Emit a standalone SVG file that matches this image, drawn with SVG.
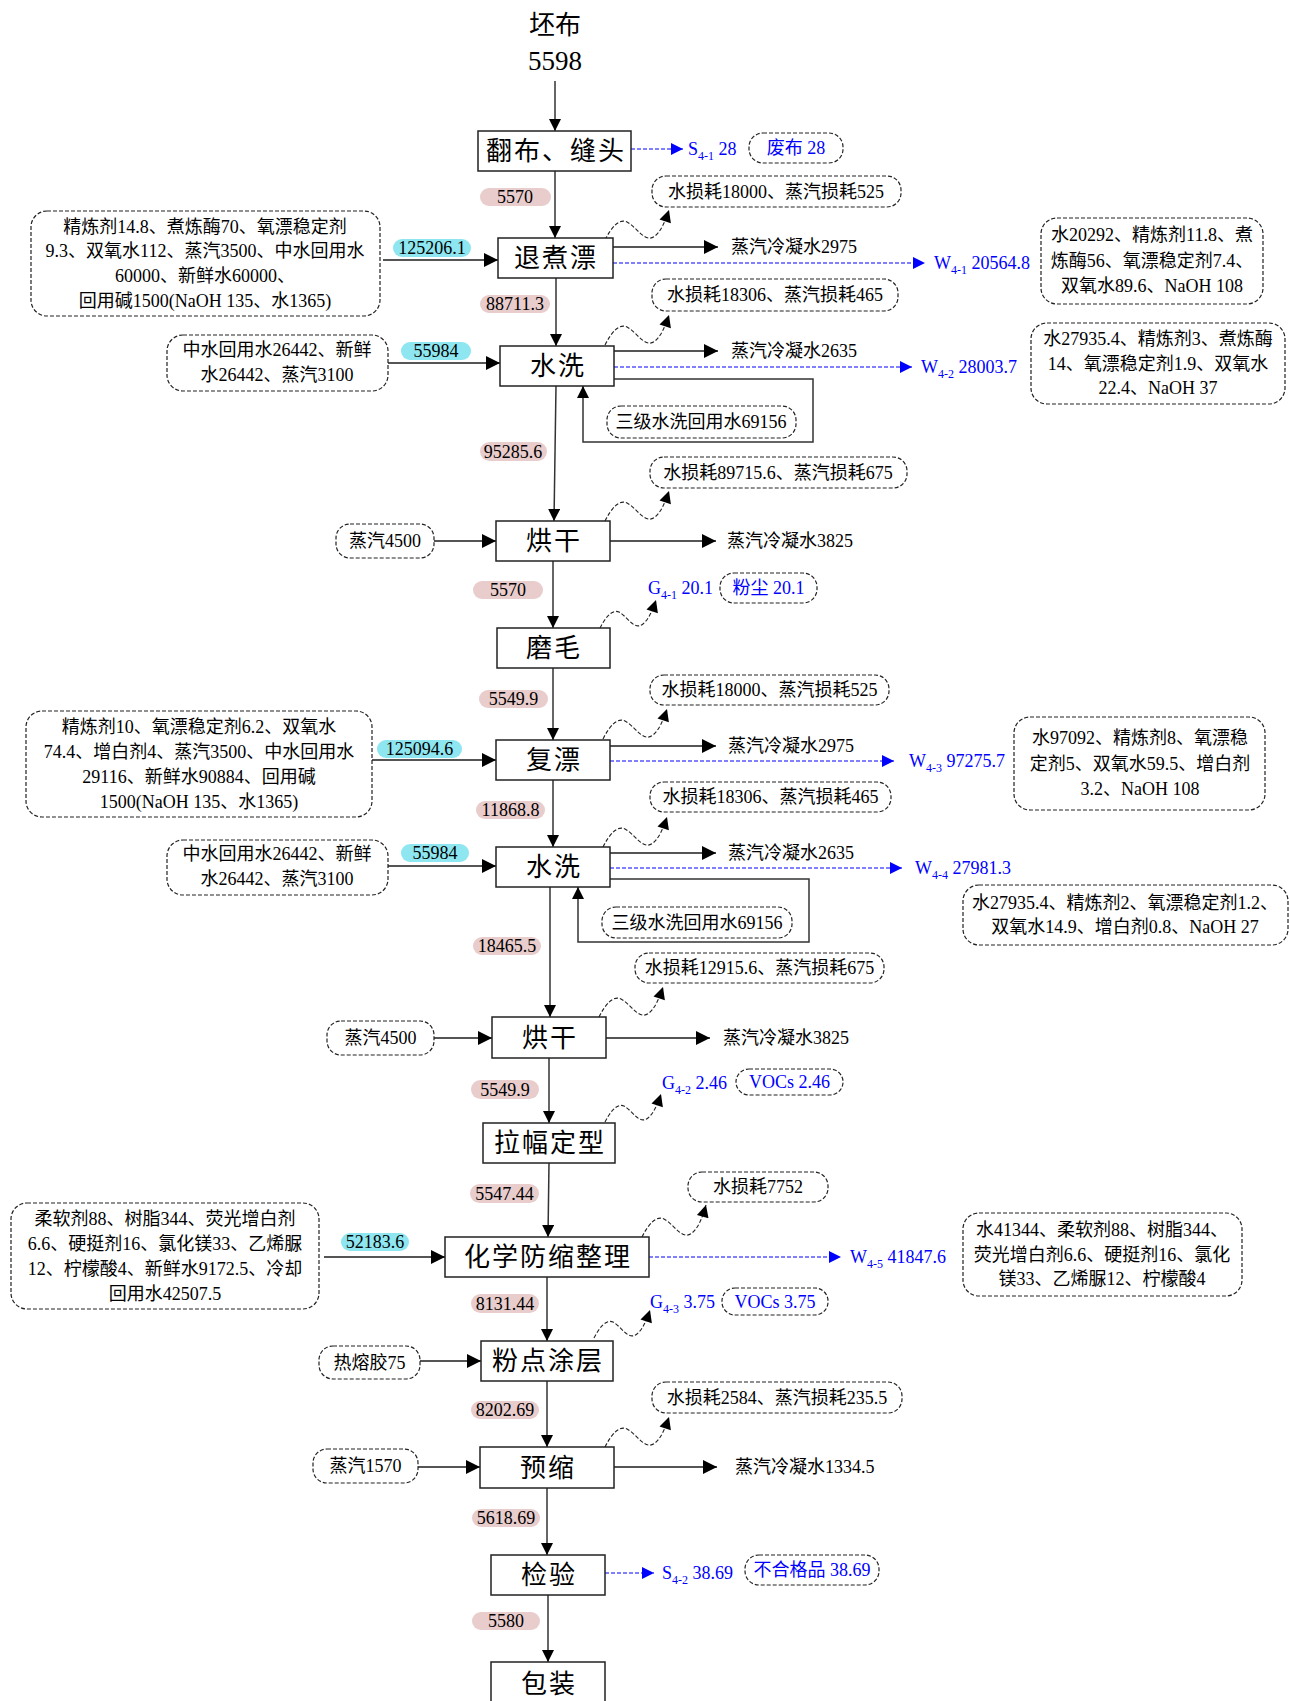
<svg xmlns="http://www.w3.org/2000/svg" width="1290" height="1701" viewBox="0 0 1290 1701">
<style>
text{font-family:"Liberation Serif","Noto Sans CJK SC",serif;fill:#000}
.t{font-size:18px;dominant-baseline:central}
.c{text-anchor:middle}
.big{font-size:26px;letter-spacing:2px;text-anchor:middle;dominant-baseline:central}
.box{fill:#fff;stroke:#222;stroke-width:1.5}
.db{fill:#fff;stroke:#222;stroke-width:1.2;stroke-dasharray:4 2}
.pk{fill:#e9cccc}
.cy{fill:#8ee6f0}
.bl{fill:#0000ff}
.ln{fill:none;stroke:#333;stroke-width:1.5}
.hl{fill:none;stroke:#555;stroke-width:2}
.bd{fill:none;stroke:#0000ff;stroke-width:1.2;stroke-dasharray:4 2}
.wv{fill:none;stroke:#222;stroke-width:1.1;stroke-dasharray:4 2}
</style>
<defs>
<marker id="av" viewBox="0 0 10 10" refX="10" refY="5" markerWidth="18" markerHeight="12" markerUnits="userSpaceOnUse" orient="auto"><path d="M0,0 L10,5 L0,10z" fill="#000"/></marker>
<marker id="ah" viewBox="0 0 10 10" refX="10" refY="5" markerWidth="20" markerHeight="14" markerUnits="userSpaceOnUse" orient="auto"><path d="M0,0 L10,5 L0,10z" fill="#000"/></marker>
<marker id="ab" viewBox="0 0 10 10" refX="10" refY="5" markerWidth="13" markerHeight="12" markerUnits="userSpaceOnUse" orient="auto"><path d="M0,0 L10,5 L0,10z" fill="#0000ff"/></marker>
<marker id="aw" viewBox="0 0 10 10" refX="10" refY="5" markerWidth="18" markerHeight="12" markerUnits="userSpaceOnUse" orient="auto"><path d="M0,0 L10,5 L0,10z" fill="#000"/></marker>
</defs>
<rect width="1290" height="1701" fill="#fff"/>

<g id="connectors">
<!-- main vertical flow -->
<path class="ln" d="M555,81 V131" marker-end="url(#av)"/>
<path class="ln" d="M555,171 V238" marker-end="url(#av)"/>
<path class="ln" d="M556,278 V346" marker-end="url(#av)"/>
<path class="ln" d="M556,386 L554,521" marker-end="url(#av)"/>
<path class="ln" d="M553,561 V628" marker-end="url(#av)"/>
<path class="ln" d="M553,668 V740" marker-end="url(#av)"/>
<path class="ln" d="M553,780 V847" marker-end="url(#av)"/>
<path class="ln" d="M550,887 V1017" marker-end="url(#av)"/>
<path class="ln" d="M549,1058 V1123" marker-end="url(#av)"/>
<path class="ln" d="M549,1163 L548,1237" marker-end="url(#av)"/>
<path class="ln" d="M547,1277 V1341" marker-end="url(#av)"/>
<path class="ln" d="M547,1381 V1447" marker-end="url(#av)"/>
<path class="ln" d="M547,1488 V1555" marker-end="url(#av)"/>
<path class="ln" d="M548,1595 V1662" marker-end="url(#av)"/>

<!-- inputs -->
<path class="hl" d="M383,260 H498" marker-end="url(#ah)"/>
<path class="hl" d="M388,363 H500" marker-end="url(#ah)"/>
<path class="hl" d="M434,541 H496" marker-end="url(#ah)"/>
<path class="hl" d="M372,760 H496" marker-end="url(#ah)"/>
<path class="hl" d="M388,866 H496" marker-end="url(#ah)"/>
<path class="hl" d="M434,1038 H492" marker-end="url(#ah)"/>
<path class="hl" d="M324,1257 H445" marker-end="url(#ah)"/>
<path class="hl" d="M420,1361 H481" marker-end="url(#ah)"/>
<path class="hl" d="M418,1467 H480" marker-end="url(#ah)"/>

<!-- condensate outputs -->
<path class="hl" d="M613,247 H718" marker-end="url(#ah)"/>
<path class="hl" d="M614,351 H718" marker-end="url(#ah)"/>
<path class="hl" d="M610,541 H716" marker-end="url(#ah)"/>
<path class="hl" d="M610,746 H716" marker-end="url(#ah)"/>
<path class="hl" d="M610,853 H716" marker-end="url(#ah)"/>
<path class="hl" d="M606,1038 H710" marker-end="url(#ah)"/>
<path class="hl" d="M614,1467 H717" marker-end="url(#ah)"/>

<!-- recycle loops -->
<path class="ln" d="M614,379 H813 V442 H583 V386" marker-end="url(#av)"/>
<path class="ln" d="M610,879 H809 V942 H578 V887" marker-end="url(#av)"/>

<!-- blue dashed waste outputs -->
<path class="bd" d="M631,149 H683" marker-end="url(#ab)"/>
<path class="bd" d="M613,263 H925" marker-end="url(#ab)"/>
<path class="bd" d="M614,367 H912" marker-end="url(#ab)"/>
<path class="bd" d="M610,761 H894" marker-end="url(#ab)"/>
<path class="bd" d="M610,868 H902" marker-end="url(#ab)"/>
<path class="bd" d="M649,1257 H841" marker-end="url(#ab)"/>
<path class="bd" d="M605,1573 H654" marker-end="url(#ab)"/>

<!-- wavy loss arrows -->
<path class="wv" d="M605,240 c6,-12 14,-22 22,-18 c10,5 18,22 28,14 c6,-5 10,-14 14,-26" marker-end="url(#aw)"/>
<path class="wv" d="M605,345 c6,-12 14,-22 22,-18 c10,5 18,22 28,14 c6,-5 10,-14 14,-26" marker-end="url(#aw)"/>
<path class="wv" d="M605,521 c6,-12 14,-22 22,-18 c10,5 18,22 28,14 c6,-5 10,-14 14,-26" marker-end="url(#aw)"/>
<path class="wv" d="M600,628 c5,-10 12,-19 19,-16 c9,5 15,19 24,12 c5,-4 9,-12 13,-24" marker-end="url(#aw)"/>
<path class="wv" d="M603,739 c6,-12 14,-22 22,-18 c10,5 18,22 28,14 c6,-5 10,-14 14,-26" marker-end="url(#aw)"/>
<path class="wv" d="M603,847 c6,-12 14,-22 22,-18 c10,5 18,22 28,14 c6,-5 10,-14 14,-26" marker-end="url(#aw)"/>
<path class="wv" d="M599,1017 c6,-12 14,-22 22,-18 c10,5 18,22 28,14 c6,-5 10,-14 14,-26" marker-end="url(#aw)"/>
<path class="wv" d="M605,1122 c5,-10 12,-19 19,-16 c9,5 15,19 24,12 c5,-4 9,-12 13,-24" marker-end="url(#aw)"/>
<path class="wv" d="M642,1237 c6,-12 14,-22 22,-18 c10,5 18,22 28,14 c6,-5 10,-14 14,-28" marker-end="url(#aw)"/>
<path class="wv" d="M594,1338 c5,-10 12,-19 19,-16 c9,5 15,19 24,12 c5,-4 9,-12 13,-24" marker-end="url(#aw)"/>
<path class="wv" d="M605,1447 c6,-12 14,-22 22,-18 c10,5 18,22 28,14 c6,-5 10,-14 14,-26" marker-end="url(#aw)"/>

<!-- flow amount labels (pink) -->
<rect class="pk" x="480" y="188" width="71" height="18" rx="9"/><text class="t c" x="515" y="197">5570</text>
<rect class="pk" x="480" y="295" width="70" height="18" rx="9"/><text class="t c" x="515" y="304">88711.3</text>
<rect class="pk" x="480" y="442" width="67" height="19" rx="9.5"/><text class="t c" x="513" y="451.5">95285.6</text>
<rect class="pk" x="473" y="581" width="70" height="18" rx="9"/><text class="t c" x="508" y="590">5570</text>
<rect class="pk" x="479" y="690" width="69" height="18" rx="9"/><text class="t c" x="513.5" y="699">5549.9</text>
<rect class="pk" x="476" y="801" width="69" height="18" rx="9"/><text class="t c" x="510.5" y="810">11868.8</text>
<rect class="pk" x="473" y="937" width="68" height="18" rx="9"/><text class="t c" x="507" y="946">18465.5</text>
<rect class="pk" x="471" y="1080" width="68" height="19" rx="9.5"/><text class="t c" x="505" y="1089.5">5549.9</text>
<rect class="pk" x="470" y="1184" width="69" height="19" rx="9.5"/><text class="t c" x="504.5" y="1193.5">5547.44</text>
<rect class="pk" x="471" y="1294" width="68" height="19" rx="9.5"/><text class="t c" x="505" y="1303.5">8131.44</text>
<rect class="pk" x="471" y="1401" width="68" height="18" rx="9"/><text class="t c" x="505" y="1410">8202.69</text>
<rect class="pk" x="472" y="1509" width="68" height="18" rx="9"/><text class="t c" x="506" y="1518">5618.69</text>
<rect class="pk" x="472" y="1612" width="68" height="18" rx="9"/><text class="t c" x="506" y="1621">5580</text>

<!-- input amount labels (cyan) -->
<rect class="cy" x="393" y="239" width="78" height="18" rx="9"/><text class="t c" x="432" y="248">125206.1</text>
<rect class="cy" x="401" y="342" width="70" height="18" rx="9"/><text class="t c" x="436" y="351">55984</text>
<rect class="cy" x="377" y="740" width="85" height="18" rx="9"/><text class="t c" x="419.5" y="749">125094.6</text>
<rect class="cy" x="401" y="844" width="68" height="18" rx="9"/><text class="t c" x="435" y="853">55984</text>
<rect class="cy" x="341" y="1233" width="68" height="18" rx="9"/><text class="t c" x="375" y="1242">52183.6</text>

<!-- plain output labels -->
<text class="t" x="731" y="247">蒸汽冷凝水2975</text>
<text class="t" x="731" y="351">蒸汽冷凝水2635</text>
<text class="t" x="727" y="541">蒸汽冷凝水3825</text>
<text class="t" x="728" y="746">蒸汽冷凝水2975</text>
<text class="t" x="728" y="853">蒸汽冷凝水2635</text>
<text class="t" x="723" y="1038">蒸汽冷凝水3825</text>
<text class="t" x="735" y="1467">蒸汽冷凝水1334.5</text>

<!-- blue waste codes -->
<text class="t bl" x="688" y="149">S<tspan font-size="12" baseline-shift="sub">4-1</tspan> 28</text>
<text class="t bl" x="934" y="263">W<tspan font-size="12" baseline-shift="sub">4-1</tspan> 20564.8</text>
<text class="t bl" x="921" y="367">W<tspan font-size="12" baseline-shift="sub">4-2</tspan> 28003.7</text>
<text class="t bl" x="648" y="588">G<tspan font-size="12" baseline-shift="sub">4-1</tspan> 20.1</text>
<text class="t bl" x="909" y="761">W<tspan font-size="12" baseline-shift="sub">4-3</tspan> 97275.7</text>
<text class="t bl" x="915" y="868">W<tspan font-size="12" baseline-shift="sub">4-4</tspan> 27981.3</text>
<text class="t bl" x="662" y="1083">G<tspan font-size="12" baseline-shift="sub">4-2</tspan> 2.46</text>
<text class="t bl" x="850" y="1257">W<tspan font-size="12" baseline-shift="sub">4-5</tspan> 41847.6</text>
<text class="t bl" x="650" y="1302">G<tspan font-size="12" baseline-shift="sub">4-3</tspan> 3.75</text>
<text class="t bl" x="662" y="1573">S<tspan font-size="12" baseline-shift="sub">4-2</tspan> 38.69</text>
</g>

<g id="n-start">
<text x="555" y="25" style="font-size:26px;text-anchor:middle;dominant-baseline:central">坯布</text>
<text x="555" y="61" style="font-size:27px;text-anchor:middle;dominant-baseline:central">5598</text>
</g>

<g id="n1"><rect class="box" x="478" y="131" width="153" height="40"/><text class="big" x="556" y="151">翻布、缝头</text></g>
<g id="n2"><rect class="box" x="498" y="238" width="115" height="40"/><text class="big" x="556" y="258">退煮漂</text></g>
<g id="n3"><rect class="box" x="500" y="346" width="114" height="40"/><text class="big" x="558" y="366">水洗</text></g>
<g id="n4"><rect class="box" x="496" y="521" width="114" height="40"/><text class="big" x="554" y="541">烘干</text></g>
<g id="n5"><rect class="box" x="497" y="628" width="113" height="40"/><text class="big" x="554" y="648">磨毛</text></g>
<g id="n6"><rect class="box" x="496" y="740" width="114" height="40"/><text class="big" x="554" y="760">复漂</text></g>
<g id="n7"><rect class="box" x="496" y="847" width="114" height="40"/><text class="big" x="554" y="867">水洗</text></g>
<g id="n8"><rect class="box" x="492" y="1017" width="114" height="41"/><text class="big" x="550" y="1038">烘干</text></g>
<g id="n9"><rect class="box" x="483" y="1123" width="132" height="40"/><text class="big" x="550" y="1143">拉幅定型</text></g>
<g id="n10"><rect class="box" x="445" y="1237" width="204" height="40"/><text class="big" x="548" y="1257">化学防缩整理</text></g>
<g id="n11"><rect class="box" x="481" y="1341" width="132" height="40"/><text class="big" x="548" y="1361">粉点涂层</text></g>
<g id="n12"><rect class="box" x="480" y="1447" width="134" height="41"/><text class="big" x="548" y="1468">预缩</text></g>
<g id="n13"><rect class="box" x="491" y="1555" width="114" height="40"/><text class="big" x="549" y="1575">检验</text></g>
<g id="n14"><rect class="box" x="491" y="1662" width="114" height="48"/><text class="big" x="549" y="1684">包装</text></g>

<!-- waste / loss boxes -->
<g id="s41"><rect class="db" x="749" y="133" width="94" height="30" rx="14"/><text class="t c bl" x="796" y="148">废布 28</text></g>
<g id="loss1"><rect class="db" x="652" y="176" width="249" height="31" rx="14"/><text class="t c" x="776" y="191.5">水损耗18000、蒸汽损耗525</text></g>
<g id="w41"><rect class="db" x="1041" y="218" width="222" height="86" rx="16"/>
<text class="t c" x="1152" y="235">水20292、精炼剂11.8、煮</text>
<text class="t c" x="1152" y="261">炼酶56、氧漂稳定剂7.4、</text>
<text class="t c" x="1152" y="286">双氧水89.6、NaOH 108</text></g>
<g id="in1"><rect class="db" x="31" y="211" width="349" height="105" rx="16"/>
<text class="t c" x="205" y="227">精炼剂14.8、煮炼酶70、氧漂稳定剂</text>
<text class="t c" x="205" y="251">9.3、双氧水112、蒸汽3500、中水回用水</text>
<text class="t c" x="205" y="276">60000、新鲜水60000、</text>
<text class="t c" x="205" y="301">回用碱1500(NaOH 135、水1365)</text></g>

<g id="loss2"><rect class="db" x="652" y="279" width="246" height="32" rx="14"/><text class="t c" x="775" y="295">水损耗18306、蒸汽损耗465</text></g>
<g id="w42"><rect class="db" x="1031" y="323" width="254" height="81" rx="16"/>
<text class="t c" x="1158" y="339">水27935.4、精炼剂3、煮炼酶</text>
<text class="t c" x="1158" y="364">14、氧漂稳定剂1.9、双氧水</text>
<text class="t c" x="1158" y="388">22.4、NaOH 37</text></g>
<g id="in2"><rect class="db" x="167" y="335" width="221" height="56" rx="16"/>
<text class="t c" x="277" y="350">中水回用水26442、新鲜</text>
<text class="t c" x="277" y="375">水26442、蒸汽3100</text></g>
<g id="rec1"><rect class="db" x="607" y="406" width="189" height="32" rx="14"/><text class="t c" x="701" y="422">三级水洗回用水69156</text></g>

<g id="loss3"><rect class="db" x="650" y="457" width="257" height="31" rx="14"/><text class="t c" x="778" y="472.5">水损耗89715.6、蒸汽损耗675</text></g>
<g id="in3"><rect class="db" x="336" y="524" width="98" height="34" rx="14"/><text class="t c" x="385" y="541">蒸汽4500</text></g>
<g id="g41"><rect class="db" x="720" y="573" width="97" height="30" rx="14"/><text class="t c bl" x="768.5" y="588">粉尘 20.1</text></g>

<g id="loss4"><rect class="db" x="650" y="675" width="239" height="30" rx="14"/><text class="t c" x="769.5" y="690">水损耗18000、蒸汽损耗525</text></g>
<g id="w43"><rect class="db" x="1014" y="717" width="251" height="93" rx="16"/>
<text class="t c" x="1140" y="738">水97092、精炼剂8、氧漂稳</text>
<text class="t c" x="1140" y="764">定剂5、双氧水59.5、增白剂</text>
<text class="t c" x="1140" y="789">3.2、NaOH 108</text></g>
<g id="in4"><rect class="db" x="26" y="711" width="346" height="106" rx="16"/>
<text class="t c" x="199" y="727">精炼剂10、氧漂稳定剂6.2、双氧水</text>
<text class="t c" x="199" y="752">74.4、增白剂4、蒸汽3500、中水回用水</text>
<text class="t c" x="199" y="777">29116、新鲜水90884、回用碱</text>
<text class="t c" x="199" y="802">1500(NaOH 135、水1365)</text></g>

<g id="loss5"><rect class="db" x="650" y="782" width="241" height="30" rx="14"/><text class="t c" x="770.5" y="797">水损耗18306、蒸汽损耗465</text></g>
<g id="w44"><rect class="db" x="963" y="885" width="325" height="60" rx="16"/>
<text class="t c" x="1125" y="903">水27935.4、精炼剂2、氧漂稳定剂1.2、</text>
<text class="t c" x="1125" y="927">双氧水14.9、增白剂0.8、NaOH 27</text></g>
<g id="in5"><rect class="db" x="167" y="840" width="221" height="55" rx="16"/>
<text class="t c" x="277" y="854">中水回用水26442、新鲜</text>
<text class="t c" x="277" y="879">水26442、蒸汽3100</text></g>
<g id="rec2"><rect class="db" x="602" y="907" width="190" height="31" rx="14"/><text class="t c" x="697" y="922.5">三级水洗回用水69156</text></g>

<g id="loss6"><rect class="db" x="635" y="953" width="249" height="30" rx="14"/><text class="t c" x="759.5" y="968">水损耗12915.6、蒸汽损耗675</text></g>
<g id="in6"><rect class="db" x="327" y="1021" width="107" height="34" rx="14"/><text class="t c" x="380.5" y="1038">蒸汽4500</text></g>
<g id="g42"><rect class="db" x="736" y="1069" width="107" height="26" rx="13"/><text class="t c bl" x="789.5" y="1082">VOCs 2.46</text></g>

<g id="loss7"><rect class="db" x="688" y="1172" width="140" height="30" rx="14"/><text class="t c" x="758" y="1187">水损耗7752</text></g>
<g id="in7"><rect class="db" x="11" y="1203" width="308" height="106" rx="16"/>
<text class="t c" x="165" y="1219">柔软剂88、树脂344、荧光增白剂</text>
<text class="t c" x="165" y="1244">6.6、硬挺剂16、氯化镁33、乙烯脲</text>
<text class="t c" x="165" y="1269">12、柠檬酸4、新鲜水9172.5、冷却</text>
<text class="t c" x="165" y="1294">回用水42507.5</text></g>
<g id="w45"><rect class="db" x="963" y="1213" width="279" height="83" rx="16"/>
<text class="t c" x="1102" y="1230">水41344、柔软剂88、树脂344、</text>
<text class="t c" x="1102" y="1255">荧光增白剂6.6、硬挺剂16、氯化</text>
<text class="t c" x="1102" y="1279">镁33、乙烯脲12、柠檬酸4</text></g>
<g id="g43"><rect class="db" x="722" y="1288" width="106" height="27" rx="13"/><text class="t c bl" x="775" y="1301.5">VOCs 3.75</text></g>

<g id="in8"><rect class="db" x="319" y="1346" width="101" height="33" rx="14"/><text class="t c" x="369.5" y="1362.5">热熔胶75</text></g>
<g id="loss8"><rect class="db" x="652" y="1382" width="250" height="31" rx="14"/><text class="t c" x="777" y="1397.5">水损耗2584、蒸汽损耗235.5</text></g>
<g id="in9"><rect class="db" x="313" y="1449" width="105" height="34" rx="14"/><text class="t c" x="365.5" y="1466">蒸汽1570</text></g>
<g id="s42"><rect class="db" x="745" y="1555" width="134" height="30" rx="14"/><text class="t c bl" x="812" y="1570">不合格品 38.69</text></g>
</svg>
